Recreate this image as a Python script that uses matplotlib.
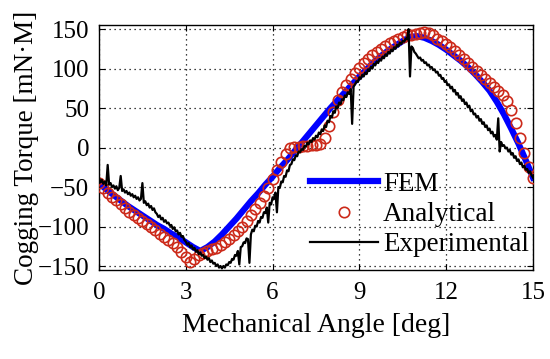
import numpy as np
import matplotlib
matplotlib.use("Agg")
import matplotlib.pyplot as plt

plt.rcParams['font.family'] = ['Liberation Serif', 'DejaVu Serif']

# ---------------- data ----------------
fem_torque = [-45, -53, -60, -67, -74, -80, -86, -92, -98, -103,
              -109, -114, -120, -126, -131, -126, -119, -110, -100, -90,
              -79, -68, -58, -47, -37, -26, -16, -5, 6, 17,
              28, 39, 50, 60, 70, 80, 90, 99, 108, 116,
              123, 129, 135, 140, 141, 139, 135, 130, 124, 117,
              110, 102, 93, 83, 72, 58, 42, 24, 5, -16,
              -38]

ana_torque = [-45, -51, -57, -62, -67, -72, -77, -81, -85, -89,
              -93, -97, -101, -105, -109, -113, -117, -121, -126, -132,
              -139, -145, -141, -136, -133, -131, -129, -127, -124, -120,
              -116, -111, -106, -100, -93, -86, -78, -70, -61, -51,
              -40, -29, -18, -8, -1, 1, 1, 2, 2, 3,
              3, 5, 12, 27, 45, 60, 70, 79, 87, 95,
              101, 107, 112, 117, 121, 125, 129, 132, 135, 138,
              140, 142, 143, 144, 145, 146, 145, 142, 138, 135,
              131, 127, 122, 117, 112, 107, 102, 97, 92, 87,
              82, 77, 72, 67, 59, 48, 31, 12, -7, -24,
              -38]

exp_torque = [
    -38, -44, -41, -46, -43, -48, -22, -47, -45, -50, -48, -52, -49, -54, -51, -36, -55, -53, -57, -55,
    -59, -57, -61, -59, -63, -61, -65, -63, -67, -65, -45, -70, -68, -73, -71, -76, -74, -79, -77, -82,
    -84, -88, -86, -91, -89, -94, -92, -96, -95, -99, -98, -103, -101, -106, -105, -110, -108, -113, -112, -117,
    -119, -123, -121, -126, -124, -129, -127, -132, -130, -135, -133, -137, -136, -140, -138, -142, -140, -145, -143, -147,
    -146, -150, -148, -152, -150, -153, -150, -152, -148, -149, -145, -146, -141, -142, -136, -137, -131, -148, -126, -125,
    -120, -121, -115, -116, -146, -110, -104, -106, -99, -100, -93, -95, -88, -89, -82, -83, -76, -95, -70, -72,
    -63, -65, -57, -82, -50, -51, -43, -44, -36, -37, -29, -30, -22, -21, -15, -16, -10, -11, -5, -6,
    -2, -3, 2, 1, 6, 4, 9, 7, 12, 10, 15, 13, 19, 17, 23, 21, 28, 26, 34, 32,
    40, 38, 46, 44, 52, 50, 57, 55, 61, 60, 66, 64, 70, 68, 74, 30, 77, 80, 84, 83,
    89, 87, 92, 90, 95, 93, 99, 97, 102, 100, 106, 104, 109, 107, 112, 110, 115, 113, 118, 116,
    121, 119, 124, 122, 127, 125, 130, 128, 133, 131, 135, 134, 138, 137, 150, 90, 128, 126, 121, 119,
    116, 113, 114, 110, 111, 107, 108, 104, 105, 101, 102, 98, 99, 95, 96, 91, 92, 87, 88, 83,
    84, 79, 80, 75, 77, 71, 73, 67, 69, 63, 65, 59, 61, 55, 57, 51, 53, 46, 48, 42,
    43, 38, 40, 34, 36, 30, 32, 26, 28, 22, 24, 18, 20, 14, 16, 10, 37, -5, 7, 2,
    3, -1, 0, -5, -3, -9, -7, -13, -11, -17, -15, -21, -19, -25, -23, -28, -27, -32, -30, -35,
    -38]

x_ticks = [0, 3, 6, 9, 12, 15]
y_ticks = [-150, -100, -50, 0, 50, 100, 150]

fem_angle = np.linspace(0, 15, len(fem_torque))
ana_angle = np.linspace(0, 15, len(ana_torque))
exp_angle = np.linspace(0, 15, len(exp_torque))

# ---------------- figure ----------------
fig = plt.figure(figsize=(5.5, 3.59), dpi=100)
ax = fig.add_axes([0.18, 0.248, 0.789, 0.682])

ax.plot(fem_angle, fem_torque, color='#0000ff', lw=4.5, label='FEM', zorder=2)
ax.plot(ana_angle, ana_torque, ls='none', marker='o', ms=7.5, mfc='none',
        mec='#cc2a1a', mew=1.2, label='Analytical', zorder=3)
ax.plot(exp_angle, exp_torque, color='black', lw=1.6, label='Experimental', zorder=4)

ax.set_xlim(0, 15)
ax.set_ylim(-155, 155)
ax.set_xticks(x_ticks)
ax.set_yticks(y_ticks)
ax.tick_params(direction='in', top=True, right=True, length=4, width=0.8,
               labelsize=18)
ax.tick_params(axis='x', pad=9)
ax.tick_params(axis='y', pad=7)
ax.grid(True, color='black', ls=(0, (1, 3)), lw=0.9)
for s in ax.spines.values():
    s.set_linewidth(1.0)

ax.set_xlabel('Mechanical Angle [deg]', fontsize=20, labelpad=6)
ax.set_ylabel('Cogging Torque [mN·M]', fontsize=19.5, labelpad=-1)

leg = ax.legend(loc='lower right', bbox_to_anchor=(0.997, 0.04), frameon=False,
                fontsize=19.5, handlelength=2.5, handletextpad=0.2,
                labelspacing=0.2, borderpad=0.1, borderaxespad=0.0)

fig.savefig('out.png', dpi=100)
